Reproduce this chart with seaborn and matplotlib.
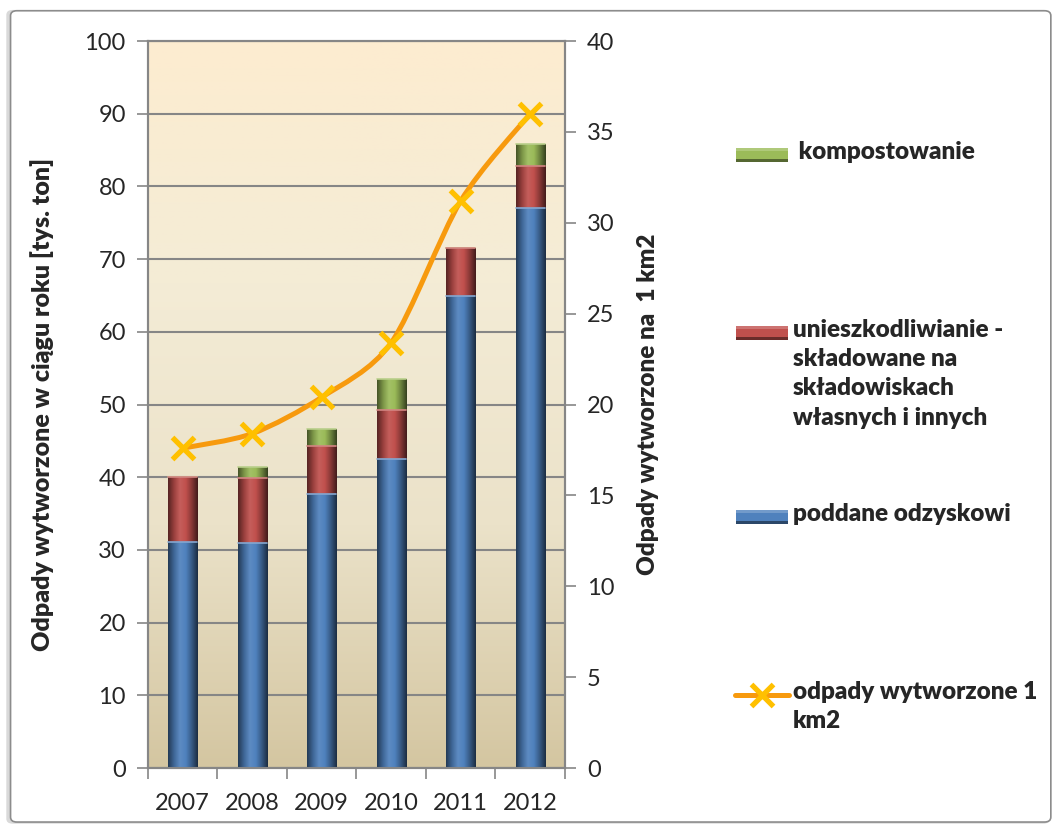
import numpy as np
import pandas as pd
import matplotlib
matplotlib.use("Agg")
import matplotlib.pyplot as plt
import seaborn as sns
from matplotlib.colors import LinearSegmentedColormap, to_rgb
from matplotlib.patches import FancyBboxPatch, Rectangle, PathPatch
from matplotlib.path import Path
from matplotlib.lines import Line2D

# data
years = ["2007", "2008", "2009", "2010", "2011", "2012"]
odzysk = [31.1, 30.9, 37.7, 42.5, 64.9, 77.0]          # poddane odzyskowi
skladowane = [9.0, 9.0, 6.6, 6.8, 6.6, 5.8]            # unieszkodliwianie - składowane
kompost = [0.0, 1.5, 2.3, 4.2, 0.0, 3.1]               # kompostowanie
na_km2 = [17.6, 18.4, 20.4, 23.4, 31.2, 36.0]          # odpady wytworzone 1 km2

df = pd.DataFrame({"rok": years, "odzysk": odzysk,
                   "skladowane": skladowane, "kompost": kompost,
                   "km2": na_km2})
df["lvl2"] = df["odzysk"] + df["skladowane"]
df["lvl3"] = df["lvl2"] + df["kompost"]

BLUE = "#4f81bd"
RED = "#c0504d"
GREEN = "#9bbb59"
ORANGE = "#f79a0e"
XCOL = "#ffc000"
GRID = "#868686"


def shade(c, f):
    r, g, b = to_rgb(c)
    if f < 1:
        return (r * f, g * f, b * f)
    return tuple(min(1, v + (1 - v) * (f - 1)) for v in (r, g, b))


def bevel_cmap(c):
    # dark edges, lighter middle - a rough take on the excel bevel
    return LinearSegmentedColormap.from_list(
        "bev", [shade(c, 0.45), shade(c, 0.8), shade(c, 1.08),
                shade(c, 1.0), shade(c, 0.7), shade(c, 0.35)])


sns.set_theme(style="white")
plt.rcParams["font.family"] = ["Lato", "DejaVu Sans"]

fig = plt.figure(figsize=(10.54, 8.27), dpi=100)

# outer frame with a bit of shadow
fig.patches.append(FancyBboxPatch((0.006, 0.004), 0.99, 0.984,
                                  boxstyle="round,pad=0,rounding_size=0.006",
                                  transform=fig.transFigure, fc="#d9d9d9",
                                  ec="none", zorder=-10))
fig.patches.append(FancyBboxPatch((0.010, 0.006), 0.987, 0.981,
                                  boxstyle="round,pad=0,rounding_size=0.006",
                                  transform=fig.transFigure, fc="white",
                                  ec="#8c8c8c", lw=1.2, zorder=-9))

ax = fig.add_axes([0.1404, 0.0713, 0.3956, 0.8791])
ax.patch.set_alpha(0)

# background gradient of the plot area
cmap = LinearSegmentedColormap.from_list(
    "bg", ["#d4c6a1", "#ebe2c9", "#f4ecd6", "#fdecd0"])
grad = np.linspace(0, 1, 256).reshape(-1, 1)
ax.imshow(grad, aspect="auto", cmap=cmap, origin="lower",
          extent=[0, 1, 0, 1], transform=ax.transAxes, zorder=-2)

# stacked bars: draw totals first, then lower levels on top
w = 0.42
layers = [("lvl3", GREEN), ("lvl2", RED), ("odzysk", BLUE)]
for li, (col, c) in enumerate(layers):
    n0 = len(ax.patches)
    sns.barplot(data=df, x="rok", y=col, color=c, width=w,
                saturation=1, ax=ax, zorder=2)
    for p in ax.patches[n0:]:
        p.set_edgecolor("none")
        p.set_linewidth(0)
        if p.get_height() <= 0:
            continue
        x0, y0 = p.get_x(), p.get_y()
        im = ax.imshow(np.linspace(0, 1, 64).reshape(1, -1), aspect="auto",
                       cmap=bevel_cmap(c), extent=[x0, x0 + p.get_width(),
                                                   y0, y0 + p.get_height()],
                       zorder=2.5 + li * 0.1)
        im.set_clip_path(p)
        # thin light seam at the top of each segment
        ax.plot([x0, x0 + p.get_width()], [p.get_height()] * 2,
                color=shade(c, 1.3), lw=1.2, zorder=2.55 + li * 0.1)

ax.set_ylim(0, 100)
ax.set_xlim(-0.5, 5.5)
ax.set_yticks(range(0, 101, 10))
ax.yaxis.grid(True, color=GRID, lw=1.5)
ax.set_axisbelow(True)
ax.set_xlabel("")
ax.set_ylabel("Odpady wytworzone w ciągu roku [tys. ton]", fontsize=18,
              fontweight="heavy", labelpad=22)
ax.tick_params(axis="y", length=8, width=1.2, color=GRID, labelsize=17,
               pad=8, left=True, direction="out")
ax.tick_params(axis="x", length=0, labelsize=17, pad=18)
ax.set_xticks(np.arange(-0.5, 6.0, 1.0), minor=True)
ax.tick_params(axis="x", which="minor", length=8, width=1.2, color=GRID,
               bottom=True, direction="out")
for s in ax.spines.values():
    s.set_color(GRID)
    s.set_linewidth(1.5)

# secondary axis with the per km2 line (smoothed like excel does it)
ax2 = ax.twinx()
xs = np.arange(len(years), dtype=float)
ys = df["km2"].to_numpy(dtype=float)
verts = [(xs[0], ys[0])]
codes = [Path.MOVETO]
k = 1 / 7
for i in range(len(xs) - 1):
    p0 = (xs[max(i - 1, 0)], ys[max(i - 1, 0)])
    p1 = (xs[i], ys[i])
    p2 = (xs[i + 1], ys[i + 1])
    p3 = (xs[min(i + 2, len(xs) - 1)], ys[min(i + 2, len(xs) - 1)])
    c1 = (p1[0] + (p2[0] - p0[0]) * k, p1[1] + (p2[1] - p0[1]) * k)
    c2 = (p2[0] - (p3[0] - p1[0]) * k, p2[1] - (p3[1] - p1[1]) * k)
    verts += [c1, c2, p2]
    codes += [Path.CURVE4] * 3
ax2.add_patch(PathPatch(Path(verts, codes), fc="none", ec=ORANGE, lw=3.6,
                        zorder=5, capstyle="round"))
ax2.plot(xs, ys, ls="none", marker="x", ms=16, mew=3.8, color=XCOL, zorder=6)
ax2.set_ylim(0, 40)
ax2.set_yticks(range(0, 41, 5))
ax2.set_ylabel("Odpady wytworzone na  1 km2", fontsize=17.5,
               fontweight="heavy", labelpad=16)
ax2.tick_params(axis="y", length=8, width=1.2, color=GRID, labelsize=17,
                pad=8, right=True, direction="out")
ax2.grid(False)
for s in ax2.spines.values():
    s.set_color(GRID)
    s.set_linewidth(1.5)

# legend, placed by hand like in the source chart
W, H = 1054, 827
def fx(x):
    return x / W
def fy(y):
    return 1 - y / H

entries = [
    (155, "patch", GREEN, " kompostowanie"),
    (333, "patch", RED, "unieszkodliwianie -\nskładowane na\nskładowiskach\nwłasnych i innych"),
    (517, "patch", BLUE, "poddane odzyskowi"),
    (695, "line", ORANGE, "odpady wytworzone 1\nkm2"),
]
for yy, kind, col, label in entries:
    if kind == "patch":
        fig.patches.append(Rectangle((fx(736), fy(yy + 7)), fx(52), 14 / H,
                                     transform=fig.transFigure, fc=col,
                                     ec="none"))
        fig.patches.append(Rectangle((fx(736), fy(yy + 7)), fx(52), 3 / H,
                                     transform=fig.transFigure,
                                     fc=shade(col, 0.55), ec="none"))
        fig.patches.append(Rectangle((fx(736), fy(yy - 4)), fx(52), 3 / H,
                                     transform=fig.transFigure,
                                     fc=shade(col, 1.2), ec="none"))
    else:
        fig.lines.append(Line2D([fx(735), fx(789)], [fy(yy), fy(yy)],
                                transform=fig.transFigure, color=ORANGE,
                                lw=3.6))
        fig.lines.append(Line2D([fx(762)], [fy(yy)], transform=fig.transFigure,
                                marker="x", ms=16, mew=3.8, color=XCOL))
    fig.text(fx(793), fy(yy - 14), label, ha="left", va="top", fontsize=17.5,
             fontweight="heavy", linespacing=1.4)

fig.savefig("out.png", dpi=100)
